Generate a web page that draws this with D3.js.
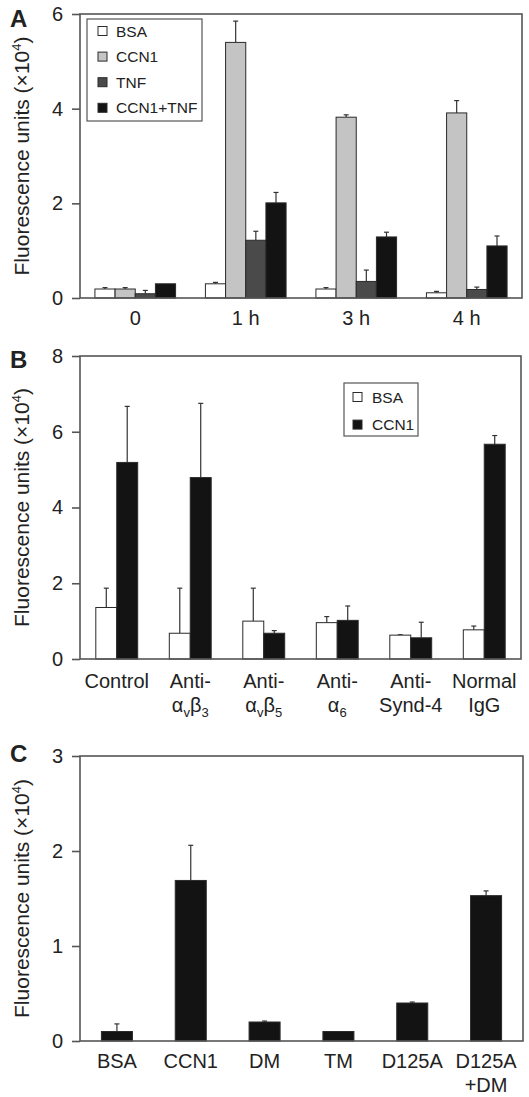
<!DOCTYPE html>
<html><head><meta charset="utf-8">
<script src="https://cdn.jsdelivr.net/npm/d3@7"></script>
<style>body{margin:0;background:#fff} text{font-family:"Liberation Sans",Arial,Helvetica,sans-serif;fill:#222}</style>
</head><body><svg id="c" width="529" height="1097"></svg>
<script>
// ---------- Panel A data ----------
const timeCats = ["0", "1 h", "3 h", "4 h"];
const seriesA = ["BSA", "CCN1", "TNF", "CCN1+TNF"];
const bsaA = [0.19, 0.30, 0.19, 0.11];
const bsaAErr = [0.03, 0.03, 0.03, 0.03];
const ccn1A = [0.19, 5.40, 3.82, 3.91];
const ccn1AErr = [0.03, 0.45, 0.05, 0.26];
const tnfA = [0.09, 1.22, 0.35, 0.18];
const tnfAErr = [0.07, 0.19, 0.24, 0.05];
const comboA = [0.30, 2.01, 1.29, 1.10];
const comboAErr = [0, 0.22, 0.10, 0.21];
const yTicksA = [0, 2, 4, 6];

// ---------- Panel B data ----------
const antibodyCats = ["Control", "Anti-|α_vβ_3", "Anti-|α_vβ_5", "Anti-|α_6", "Anti-|Synd-4", "Normal|IgG"];
const seriesB = ["BSA", "CCN1"];
const bsaB = [1.36, 0.68, 1.00, 0.96, 0.63, 0.77];
const bsaBErr = [0.51, 1.19, 0.87, 0.16, 0.01, 0.10];
const ccn1B = [5.19, 4.79, 0.68, 1.02, 0.56, 5.67];
const ccn1BErr = [1.48, 1.96, 0.07, 0.38, 0.41, 0.23];
const yTicksB = [0, 2, 4, 6, 8];

// ---------- Panel C data ----------
const mutantCats = ["BSA", "CCN1", "DM", "TM", "D125A", "D125A|+DM"];
const mutantVals = [0.10, 1.69, 0.20, 0.10, 0.40, 1.53];
const mutantErr = [0.08, 0.37, 0.01, 0, 0.01, 0.05];
const yTicksC = [0, 1, 2, 3];

const yTitle = "Fluorescence units (×10";

const svg = d3.select("#c");
const frameColor = "#555";
const barStroke = "#2a2a2a";

function catLabel(g, x, y0, label) {
  const lines = label.split("|");
  lines.forEach((ln, i) => {
    const t = g.append("text").attr("x", x).attr("y", y0 + i * 24)
      .attr("text-anchor", "middle").attr("font-size", 20);
    let k = 0, shifted = false;
    while (k < ln.length) {
      if (ln[k] === "_" && k + 1 < ln.length) {
        t.append("tspan").attr("font-size", 13).attr("dy", 5).text(ln[k + 1]);
        shifted = true; k += 2;
      } else {
        let s = "";
        while (k < ln.length && ln[k] !== "_") { s += ln[k]; k++; }
        const ts = t.append("tspan").text(s);
        if (shifted) { ts.attr("dy", -5); shifted = false; }
      }
    }
  });
}

function panel(opt) {
  const g = svg.append("g");
  const y = d3.scaleLinear().domain([0, opt.yMax]).range([opt.bottom, opt.top]);
  const x0 = d3.scaleBand().domain(opt.cats).range([opt.left, opt.right])
    .paddingInner(opt.pad).paddingOuter(opt.pad / 2);
  const x1 = d3.scaleBand().domain(opt.series.map((d, i) => i)).range([0, x0.bandwidth()]);

  opt.series.forEach((s, si) => {
    opt.cats.forEach((c, ci) => {
      const v = s.values[ci], e = s.err[ci];
      const bx = x0(c) + x1(si);
      const cx = bx + x1.bandwidth() / 2;
      if (e > 0) {
        g.append("line").attr("x1", cx).attr("x2", cx).attr("y1", y(v)).attr("y2", y(v + e))
          .attr("stroke", "#333").attr("stroke-width", 1.2);
        g.append("line").attr("x1", cx - 2.5).attr("x2", cx + 2.5).attr("y1", y(v + e)).attr("y2", y(v + e))
          .attr("stroke", "#333").attr("stroke-width", 1.2);
      }
      g.append("rect").attr("x", bx).attr("width", x1.bandwidth())
        .attr("y", y(v)).attr("height", y(0) - y(v))
        .attr("fill", s.color).attr("stroke", barStroke).attr("stroke-width", 1);
    });
  });

  g.append("rect").attr("x", opt.left).attr("y", opt.top)
    .attr("width", opt.right - opt.left).attr("height", opt.bottom - opt.top)
    .attr("fill", "none").attr("stroke", frameColor).attr("stroke-width", 1.6);

  const ax = g.append("g").attr("transform", `translate(${opt.left},0)`)
    .call(d3.axisLeft(y).tickValues(opt.ticks).tickSize(8).tickPadding(9).tickFormat(d3.format("d")));
  ax.select(".domain").remove();
  ax.selectAll(".tick line").attr("stroke", frameColor).attr("stroke-width", 1.6);
  ax.selectAll(".tick text").attr("font-size", 20).attr("font-family", '"Liberation Sans",Arial,sans-serif').attr("fill", "#222");

  opt.cats.forEach(c => catLabel(g, x0(c) + x0.bandwidth() / 2, opt.bottom + opt.labelDy, c));

  const cy = (opt.top + opt.bottom) / 2;
  const t = g.append("text").attr("transform", `translate(29,${cy}) rotate(-90)`)
    .attr("text-anchor", "middle").attr("font-size", 21);
  t.append("tspan").text(yTitle);
  t.append("tspan").attr("font-size", 13).attr("dy", -8).text("4");
  t.append("tspan").attr("dy", 8).text(")");

  g.append("text").attr("x", 10).attr("y", opt.top + opt.letterDy).attr("font-size", 24)
    .attr("font-weight", "bold").attr("fill", "#111").text(opt.letter);

  if (opt.legend) {
    const L = opt.legend;
    g.append("rect").attr("x", L.x).attr("y", L.y).attr("width", L.w).attr("height", L.h)
      .attr("fill", "#fff").attr("stroke", frameColor).attr("stroke-width", 1.2);
    opt.series.forEach((s, i) => {
      const yy = L.y + L.first + i * L.step;
      g.append("rect").attr("x", L.x + L.sw).attr("y", yy - 4.5).attr("width", 9).attr("height", 9)
        .attr("fill", s.color).attr("stroke", barStroke).attr("stroke-width", 1);
      g.append("text").attr("x", L.x + L.tx).attr("y", yy + 5.5).attr("font-size", 15.5).text(s.name);
    });
  }
}

panel({
  letter: "A", letterDy: 13, top: 14, bottom: 298, left: 80, right: 522, yMax: 6, ticks: yTicksA,
  cats: timeCats, pad: 0.27, labelDy: 27,
  series: [
    { name: seriesA[0], values: bsaA, err: bsaAErr, color: "#ffffff" },
    { name: seriesA[1], values: ccn1A, err: ccn1AErr, color: "#c4c4c4" },
    { name: seriesA[2], values: tnfA, err: tnfAErr, color: "#4a4a4a" },
    { name: seriesA[3], values: comboA, err: comboAErr, color: "#131313" }
  ],
  legend: { x: 87, y: 19, w: 115, h: 102, first: 12, step: 25.6, sw: 11, tx: 29 }
});

panel({
  letter: "B", letterDy: 12, top: 356, bottom: 659, left: 80, right: 521, yMax: 8, ticks: yTicksB,
  cats: antibodyCats, pad: 0.43, labelDy: 29,
  series: [
    { name: seriesB[0], values: bsaB, err: bsaBErr, color: "#ffffff" },
    { name: seriesB[1], values: ccn1B, err: ccn1BErr, color: "#131313" }
  ],
  legend: { x: 344, y: 383, w: 74, h: 53, first: 14, step: 27.6, sw: 9, tx: 28 }
});

panel({
  letter: "C", letterDy: 6, top: 756, bottom: 1041, left: 80, right: 523, yMax: 3, ticks: yTicksC,
  cats: mutantCats, pad: 0.58, labelDy: 27,
  series: [
    { name: "value", values: mutantVals, err: mutantErr, color: "#131313" }
  ]
});
</script></body></html>
